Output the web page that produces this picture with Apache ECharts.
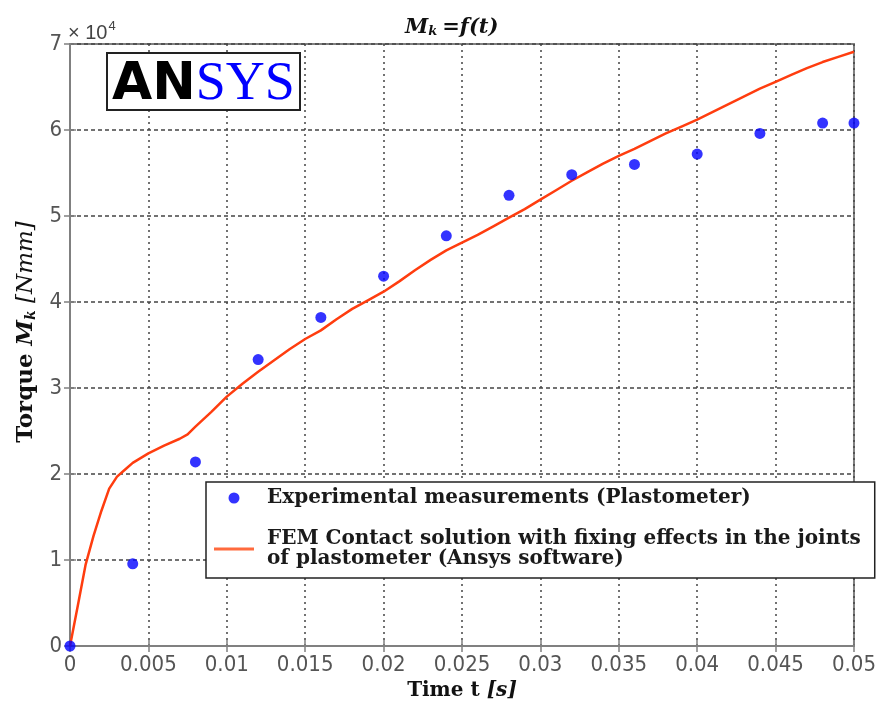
<!DOCTYPE html>
<html>
<head>
<meta charset="utf-8">
<script src="https://cdn.jsdelivr.net/npm/echarts@6/dist/echarts.min.js"></script>
<style>
html,body{margin:0;padding:0;background:#fff;}
#chart{width:879px;height:711px;}
</style>
</head>
<body>
<div id="chart"></div>
<script>
// Experimental measurements (Plastometer)
var expT = [0, 0.004, 0.008, 0.012, 0.016, 0.020, 0.024, 0.028, 0.032, 0.036, 0.040, 0.044, 0.048, 0.050];
var expM = [0, 9550, 21400, 33300, 38200, 43000, 47700, 52400, 54800, 56000, 57200, 59600, 60800, 60800];

// FEM contact solution (Ansys software)
var femT = [0, 0.0005, 0.001, 0.0015, 0.002, 0.0025, 0.003, 0.0035, 0.004, 0.005, 0.006, 0.007, 0.0075, 0.008, 0.009,
            0.010, 0.011, 0.012, 0.013, 0.014, 0.015, 0.016, 0.017, 0.018, 0.019, 0.020, 0.021, 0.022, 0.023, 0.024,
            0.025, 0.026, 0.027, 0.028, 0.029, 0.030, 0.031, 0.032, 0.033, 0.034, 0.035, 0.036, 0.037, 0.038, 0.039,
            0.040, 0.041, 0.042, 0.043, 0.044, 0.045, 0.046, 0.047, 0.048, 0.049, 0.050];
var femM = [0, 4700, 9500, 12800, 15700, 18300, 19700, 20500, 21300, 22400, 23300, 24100, 24600, 25500, 27200,
            29000, 30500, 31900, 33200, 34500, 35700, 36700, 38000, 39200, 40200, 41200, 42400, 43700, 44900, 46000,
            46900, 47800, 48800, 49800, 50800, 51900, 53000, 54100, 55100, 56100, 57000, 57800, 58700, 59600, 60400,
            61200, 62100, 63000, 63900, 64800, 65600, 66400, 67200, 67900, 68500, 69100];

var xTickLabels = ['0', '0.005', '0.01', '0.015', '0.02', '0.025', '0.03', '0.035', '0.04', '0.045', '0.05'];
var yTickLabels = ['0', '1', '2', '3', '4', '5', '6', '7'];

var legendNames = ['Experimental measurements (Plastometer)',
                   'FEM Contact solution with fixing effects in the joints\nof plastometer (Ansys software)'];

function pairs(a, b) { return a.map(function (v, i) { return [v, b[i]]; }); }

var chart = echarts.init(document.getElementById('chart'));
var serif = "'DejaVu Serif', 'Liberation Serif', serif";
var sans = "'Liberation Sans Narrow', 'DejaVu Sans Condensed', 'Liberation Sans', sans-serif";
var gridColor = '#444';
var axisColor = '#808080';

chart.setOption({
  backgroundColor: '#ffffff',
  animation: false,
  title: {
    text: '{m|M}{k|k} {f|=f(t)}',
    left: 400, top: 12,
    textStyle: {
      rich: {
        m: {fontFamily: serif, fontStyle: 'italic', fontWeight: 'bold', fontSize: 21, color: '#111'},
        k: {fontFamily: serif, fontStyle: 'italic', fontWeight: 'bold', fontSize: 13, color: '#111', padding: [8, 0, 0, 0]},
        f: {fontFamily: serif, fontStyle: 'italic', fontWeight: 'bold', fontSize: 21, color: '#111'}
      }
    }
  },
  grid: {left: 70, right: 25, top: 44, bottom: 65, show: true, borderColor: axisColor, borderWidth: 2},
  legend: {
    orient: 'vertical',
    left: 206, top: 482,
    width: 670,
    backgroundColor: '#ffffff',
    borderColor: '#222',
    borderWidth: 1.5,
    borderRadius: 0,
    padding: [6, 14, 9, 8],
    itemGap: 21,
    itemWidth: 40,
    itemHeight: 11,
    textStyle: {fontFamily: serif, fontWeight: 'bold', fontSize: 20, lineHeight: 20, color: '#1a1a1a', padding: [0, 0, 0, 8]},
    data: [
      {name: legendNames[0], icon: 'circle'},
      {name: legendNames[1], icon: 'path://M0,0 L40,0 L40,3 L0,3 Z'}
    ]
  },
  xAxis: [{
    type: 'value', min: 0, max: 0.05, interval: 0.005,
    name: '{b|Time t }{i|[s]}',
    nameLocation: 'middle', nameGap: 34,
    nameTextStyle: {rich: {
      b: {fontFamily: serif, fontWeight: 'bold', fontSize: 20, color: '#111'},
      i: {fontFamily: serif, fontWeight: 'bold', fontStyle: 'italic', fontSize: 20, color: '#111'}
    }},
    axisLine: {show: true, lineStyle: {color: axisColor, width: 2}},
    axisTick: {show: true, inside: true, length: 6, lineStyle: {color: axisColor, width: 1.5}},
    axisLabel: {
      margin: 8, fontFamily: sans, fontSize: 22, color: '#555',
      formatter: function (v) { return xTickLabels[Math.round(v / 0.005)]; }
    },
    splitLine: {show: true, lineStyle: {color: gridColor, width: 1.5, type: [2, 4]}}
  }, {
    type: 'value', min: 0, max: 0.05, interval: 0.005, position: 'top',
    axisLine: {show: true, lineStyle: {color: axisColor, width: 2}},
    axisTick: {show: true, inside: true, length: 6, lineStyle: {color: axisColor, width: 1.5}},
    axisLabel: {show: false}, splitLine: {show: false}
  }],
  yAxis: [{
    type: 'value', min: 0, max: 70000, interval: 10000,
    name: '{b|Torque }{m|M}{k|k}{i| [Nmm]}',
    nameLocation: 'middle', nameRotate: 90, nameGap: 32,
    nameTextStyle: {rich: {
      b: {fontFamily: serif, fontWeight: 'bold', fontSize: 23, color: '#111', padding: [0, 0, 0, 26]},
      m: {fontFamily: serif, fontWeight: 'bold', fontStyle: 'italic', fontSize: 23, color: '#111'},
      k: {fontFamily: serif, fontWeight: 'bold', fontStyle: 'italic', fontSize: 14, color: '#111', padding: [10, 0, 0, 0]},
      i: {fontFamily: serif, fontStyle: 'italic', fontSize: 23, color: '#111'}
    }},
    axisLine: {show: true, lineStyle: {color: axisColor, width: 2}},
    axisTick: {show: true, inside: true, length: 6, lineStyle: {color: axisColor, width: 1.5}},
    axisLabel: {
      margin: 8, fontFamily: sans, fontSize: 22, color: '#555',
      formatter: function (v) { return yTickLabels[Math.round(v / 10000)]; }
    },
    splitLine: {show: true, lineStyle: {color: gridColor, width: 1.5, type: [4, 3]}}
  }, {
    type: 'value', min: 0, max: 70000, interval: 10000, position: 'right',
    axisLine: {show: true, lineStyle: {color: axisColor, width: 2}},
    axisTick: {show: true, inside: true, length: 6, lineStyle: {color: axisColor, width: 1.5}},
    axisLabel: {show: false}, splitLine: {show: false}
  }],
  graphic: [
    {type: 'text', left: 68, top: 20, z: 10, style: {
      text: '{a|× 10}{s|4}',
      rich: {
        a: {fontFamily: "'Liberation Sans', sans-serif", fontSize: 20, fill: '#444', padding: [6, 0, 0, 0]},
        s: {fontFamily: "'Liberation Sans', sans-serif", fontSize: 13, fill: '#444', padding: [0, 0, 8, 1]}
      }
    }},
    {type: 'rect', shape: {x: 107, y: 53, width: 193, height: 57}, z: 10,
     style: {fill: '#ffffff', stroke: '#222', lineWidth: 2}},
    {type: 'text', x: 112, y: 58, z: 11, style: {
      text: '{a|AN}{b|SYS}',
      rich: {
        a: {fontFamily: "'DejaVu Sans', sans-serif", fontWeight: 'bold', fontSize: 52, fill: '#000'},
        b: {fontFamily: "'Liberation Serif', serif", fontSize: 54, fill: '#0000ff'}
      }
    }}
  ],
  series: [{
    name: legendNames[1],
    type: 'line',
    data: pairs(femT, femM),
    showSymbol: false,
    smooth: false,
    lineStyle: {color: '#ff3d0f', width: 2.5},
    itemStyle: {color: '#ff6a3d'},
    z: 2
  }, {
    name: legendNames[0],
    type: 'scatter',
    data: pairs(expT, expM),
    symbol: 'circle',
    symbolSize: 11,
    itemStyle: {color: '#0000ff'},
    z: 3
  }]
});
</script>
</body>
</html>
